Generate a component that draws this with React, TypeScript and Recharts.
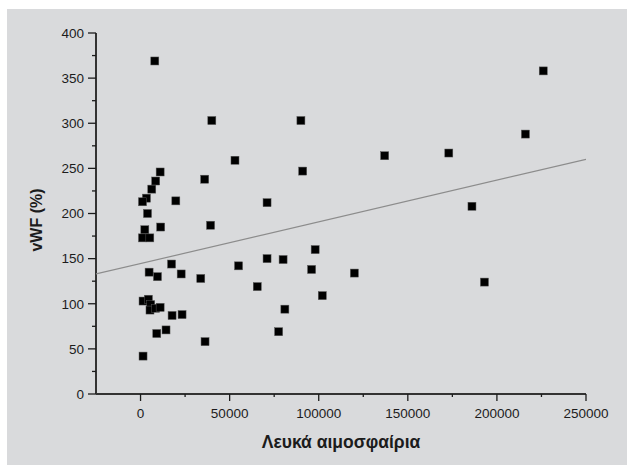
import { Scatter, ScatterChart, XAxis, YAxis } from "recharts";

// Λευκά αιμοσφαίρια (x) vs vWF % (y)
const wbc = [
  8000, 226000, 40000, 90000, 216000, 173000, 137000, 53000, 11000, 91000,
  8500, 36000, 6300, 3300, 1100, 19800, 71000, 186000, 3900, 39300,
  11300, 2400, 1100, 5200, 98000, 71000, 80000, 17400, 55000, 96000,
  4800, 120000, 22800, 9500, 33800, 193000, 65500, 102000, 1400, 4400,
  5700, 5300, 8500, 11000, 17700, 23300, 81000, 14300, 9100, 77500,
  36200, 1400,
];
const vwf = [
  369, 358, 303, 303, 288, 267, 264, 259, 246, 247,
  236, 238, 227, 217, 213, 214, 212, 208, 200, 187,
  185, 182, 173, 173, 160, 150, 149, 144, 142, 138,
  135, 134, 133, 130, 128, 124, 119, 109, 103, 105,
  99, 93, 95, 96, 87, 88, 94, 71, 67, 69,
  58, 42,
];

const fitX = [-25000, 250000];
const fitY = [133, 260];

const xTicks = [0, 25000, 50000, 75000, 100000, 125000, 150000, 175000, 200000, 225000, 250000];
const yTicks = [0, 25, 50, 75, 100, 125, 150, 175, 200, 225, 250, 275, 300, 325, 350, 375, 400];

const points = wbc.map((x, i) => ({ x, y: vwf[i] }));
const fitLine = fitX.map((x, i) => ({ x, y: fitY[i] }));

const FONT = "'Liberation Sans', Arial, sans-serif";
const INK = "#1c1c1c";

function YTick(props: any) {
  const { x, y, payload } = props;
  const major = payload.value % 50 === 0;
  return (
    <g>
      <line x1={x - (major ? 8 : 4)} x2={x} y1={y} y2={y} stroke={INK} strokeWidth={1.3} />
      {major && (
        <text x={x - 12} y={y} dy="0.36em" textAnchor="end" fontSize={13.5} fill={INK} fontFamily={FONT}>
          {payload.value}
        </text>
      )}
    </g>
  );
}

function XTick(props: any) {
  const { x, y, payload } = props;
  const major = payload.value % 50000 === 0;
  return (
    <g>
      <line x1={x} x2={x} y1={y} y2={y + (major ? 7 : 3)} stroke={INK} strokeWidth={1.3} />
      {major && (
        <text x={x} y={y + 24} textAnchor="middle" fontSize={13.5} fill={INK} fontFamily={FONT}>
          {payload.value}
        </text>
      )}
    </g>
  );
}

function Square(props: any) {
  const { cx, cy } = props;
  return <rect x={cx - 4} y={cy - 4} width={8} height={8} fill="#000" stroke="#555" strokeWidth={0.5} />;
}

function NoDot() {
  return <g />;
}

export default function App() {
  return (
    <div
      style={{
        position: "fixed",
        left: 7,
        top: 9,
        width: 620,
        height: 456,
        background: "#d9dadc",
        fontFamily: FONT,
      }}
    >
      <ScatterChart width={620} height={456} margin={{ top: 24, right: 41, bottom: 0, left: 0 }}>
        <XAxis
          type="number"
          dataKey="x"
          domain={[-25000, 250000]}
          ticks={xTicks}
          interval={0}
          allowDataOverflow
          height={71}
          tickSize={0}
          tickMargin={0}
          tickLine={false}
          axisLine={{ stroke: "#333", strokeWidth: 2 }}
          tick={<XTick />}
        />
        <YAxis
          type="number"
          dataKey="y"
          domain={[0, 400]}
          ticks={yTicks}
          interval={0}
          allowDataOverflow
          width={89}
          tickSize={0}
          tickMargin={0}
          tickLine={false}
          axisLine={{ stroke: "#333", strokeWidth: 2 }}
          tick={<YTick />}
        />
        <Scatter
          data={fitLine}
          line={{ stroke: "#8c8c8c", strokeWidth: 1.2 }}
          shape={<NoDot />}
          isAnimationActive={false}
        />
        <Scatter data={points} shape={<Square />} isAnimationActive={false} />
      </ScatterChart>
      <div
        style={{
          position: "absolute",
          left: 334,
          top: 433,
          transform: "translate(-50%, -50%)",
          fontSize: 17.5,
          fontWeight: "bold",
          color: INK,
          whiteSpace: "nowrap",
        }}
      >
        Λευκά αιμοσφαίρια
      </div>
      <div
        style={{
          position: "absolute",
          left: 30,
          top: 211,
          transform: "translate(-50%, -50%) rotate(-90deg)",
          fontSize: 16,
          fontWeight: "bold",
          color: INK,
          whiteSpace: "nowrap",
        }}
      >
        vWF (%)
      </div>
    </div>
  );
}
